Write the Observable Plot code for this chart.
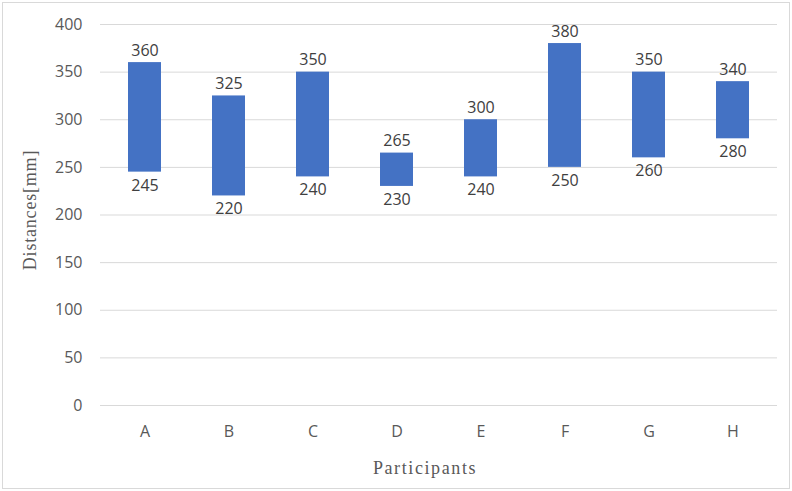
<!DOCTYPE html>
<html>
<head>
<meta charset="utf-8">
<script src="https://cdn.jsdelivr.net/npm/d3@7"></script>
<script src="https://cdn.jsdelivr.net/npm/@observablehq/plot@0.6"></script>
<style>
  html, body { margin: 0; padding: 0; background: #fff; }
  #chart { position: relative; width: 792px; height: 491px; }
  #chart::after {
    content: ""; position: absolute; left: 2px; top: 2px; right: 2px; bottom: 2px;
    border: 1px solid #d9d9d9; pointer-events: none;
  }
  #chart svg { display: block; }
</style>
</head>
<body>
<div id="chart"></div>
<script>
// Participants and the low/high ends of each measured distance range (mm)
const participants = ["A", "B", "C", "D", "E", "F", "G", "H"];
const lowValues  = [245, 220, 240, 230, 240, 250, 260, 280];
const highValues = [360, 325, 350, 265, 300, 380, 350, 340];
const yTicks = [0, 50, 100, 150, 200, 250, 300, 350, 400];
const xTitle = "Participants";
const yTitle = "Distances[mm]";

const rows = participants.map((p, i) => ({ p, low: lowValues[i], high: highValues[i] }));

const sans = "'Open Sans', 'Segoe UI', sans-serif";
const serif = "'Liberation Serif', 'Times New Roman', serif";

const chart = Plot.plot({
  width: 792,
  height: 491,
  marginTop: 24,
  marginBottom: 86,
  marginLeft: 100,
  marginRight: 15,
  style: { fontFamily: sans, fontSize: "16px", color: "#595959", background: "transparent" },
  x: { domain: participants, paddingInner: 0.61, paddingOuter: 0.305, label: null },
  y: { domain: [0, 400], ticks: yTicks, label: null },
  marks: [
    Plot.gridY(yTicks, { stroke: "#d9d9d9", strokeOpacity: 1, strokeWidth: 1 }),
    Plot.axisY({ ticks: yTicks, tickSize: 0, tickPadding: 18, fontSize: 16, fill: "#595959" }),
    Plot.axisX({ tickSize: 0, tickPadding: 20, fontSize: 16, fill: "#595959" }),
    Plot.barY(rows, { x: "p", y1: "low", y2: "high", fill: "#4472c4" }),
    // range ends: high value above each bar, low value below it
    Plot.text(rows, { x: "p", y: "high", text: d => String(d.high), lineAnchor: "bottom", dy: -7, fill: "#404040", fontSize: 16 }),
    Plot.text(rows, { x: "p", y: "low", text: d => String(d.low), lineAnchor: "top", dy: 7, fill: "#404040", fontSize: 16 }),
    // axis titles
    Plot.text([xTitle], { frameAnchor: "bottom", dx: -14, dy: 68, fontFamily: serif, fontSize: 18, fill: "#595959" }),
    Plot.text([yTitle], { frameAnchor: "left", textAnchor: "middle", dx: -70, dy: -5, rotate: -90, fontFamily: serif, fontSize: 18, fill: "#595959" })
  ]
});

// wider tracking on the serif axis titles
d3.select(chart).selectAll("text")
  .filter(function () { return this.textContent === xTitle; })
  .style("letter-spacing", "1.6px");
d3.select(chart).selectAll("text")
  .filter(function () { return this.textContent === yTitle; })
  .style("letter-spacing", "0.8px");

document.getElementById("chart").appendChild(chart);
</script>
</body>
</html>
